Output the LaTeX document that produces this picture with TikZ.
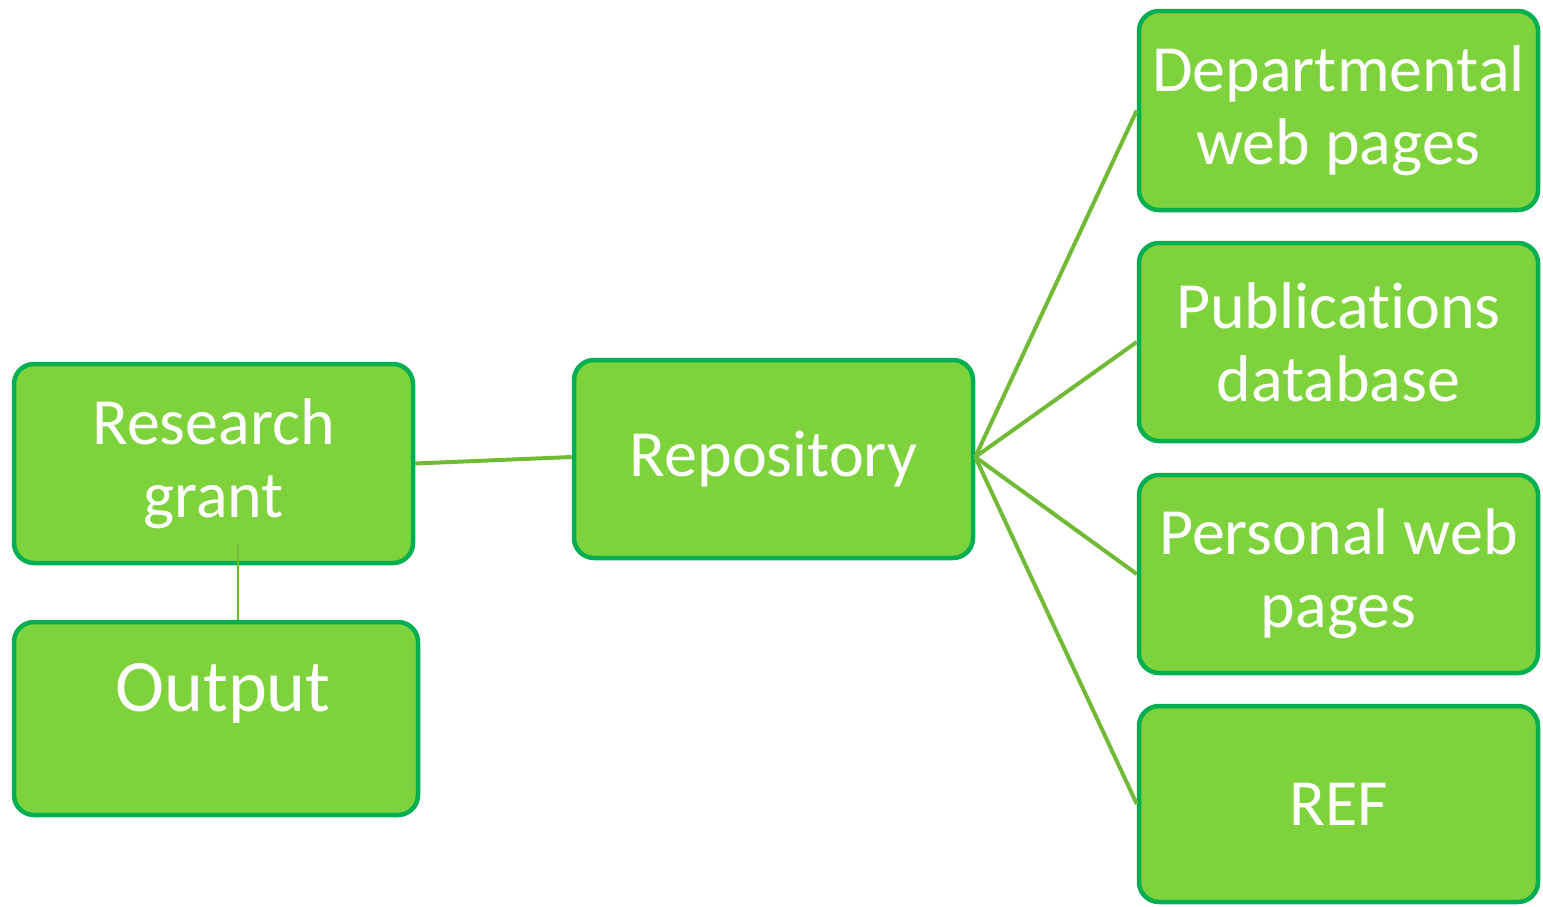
\documentclass[tikz,border=0pt]{standalone}
\usepackage{fontspec}
\setmainfont{Carlito}[Ligatures=NoCommon]
\definecolor{boxfill}{HTML}{7ED23C}
\definecolor{boxdraw}{HTML}{00B050}
\definecolor{conn}{HTML}{70BA35}
\begin{document}
\begin{tikzpicture}[x=1pt,y=-1pt,
  box/.style={draw=boxdraw,fill=boxfill,line width=4.5pt,rounded corners=20pt,
    inner sep=0pt,text=white,align=center,
    font=\fontsize{66pt}{73pt}\selectfont},
  lbl/.style={text=white,inner sep=0pt,align=center,font=\fontsize{74pt}{80pt}\selectfont},
  link/.style={draw=conn,line width=4pt}]
\useasboundingbox (0,0) rectangle (1543,906);
\node[box,minimum width=399pt,minimum height=199pt] (rg) at (213.5,463.5) {Research\\grant};
\node[box,minimum width=404pt,minimum height=193pt] (out) at (216,718.5) {};
\node[lbl] (outl) at (223,693) {Output};
\node[box,minimum width=399pt,minimum height=198pt] (rep) at (773.5,459) {\raisebox{-2pt}{Repository}};
\node[box,minimum width=399pt,minimum height=199pt] (dep) at (1338.5,110.5) {Departmental\\web pages};
\node[box,minimum width=399pt,minimum height=198pt] (pub) at (1338.5,342) {Publications\\database};
\node[box,minimum width=399pt,minimum height=198pt] (per) at (1338.5,574) {Personal web\\pages};
\node[box,minimum width=399pt,minimum height=196pt] (ref) at (1338.5,804) {REF};
\draw[link] (rg.east) -- ([yshift=2pt]rep.west);
\draw[link] ([yshift=2pt]rep.east) -- (dep.west);
\draw[link] ([yshift=2pt]rep.east) -- (pub.west);
\draw[link] ([yshift=2pt]rep.east) -- (per.west);
\draw[link] ([yshift=2pt]rep.east) -- (ref.west);
\draw[draw=conn,line width=1.5pt] ([xshift=24.5pt,yshift=20pt]rg.south) -- ([xshift=22pt]out.north);
\end{tikzpicture}
\end{document}
